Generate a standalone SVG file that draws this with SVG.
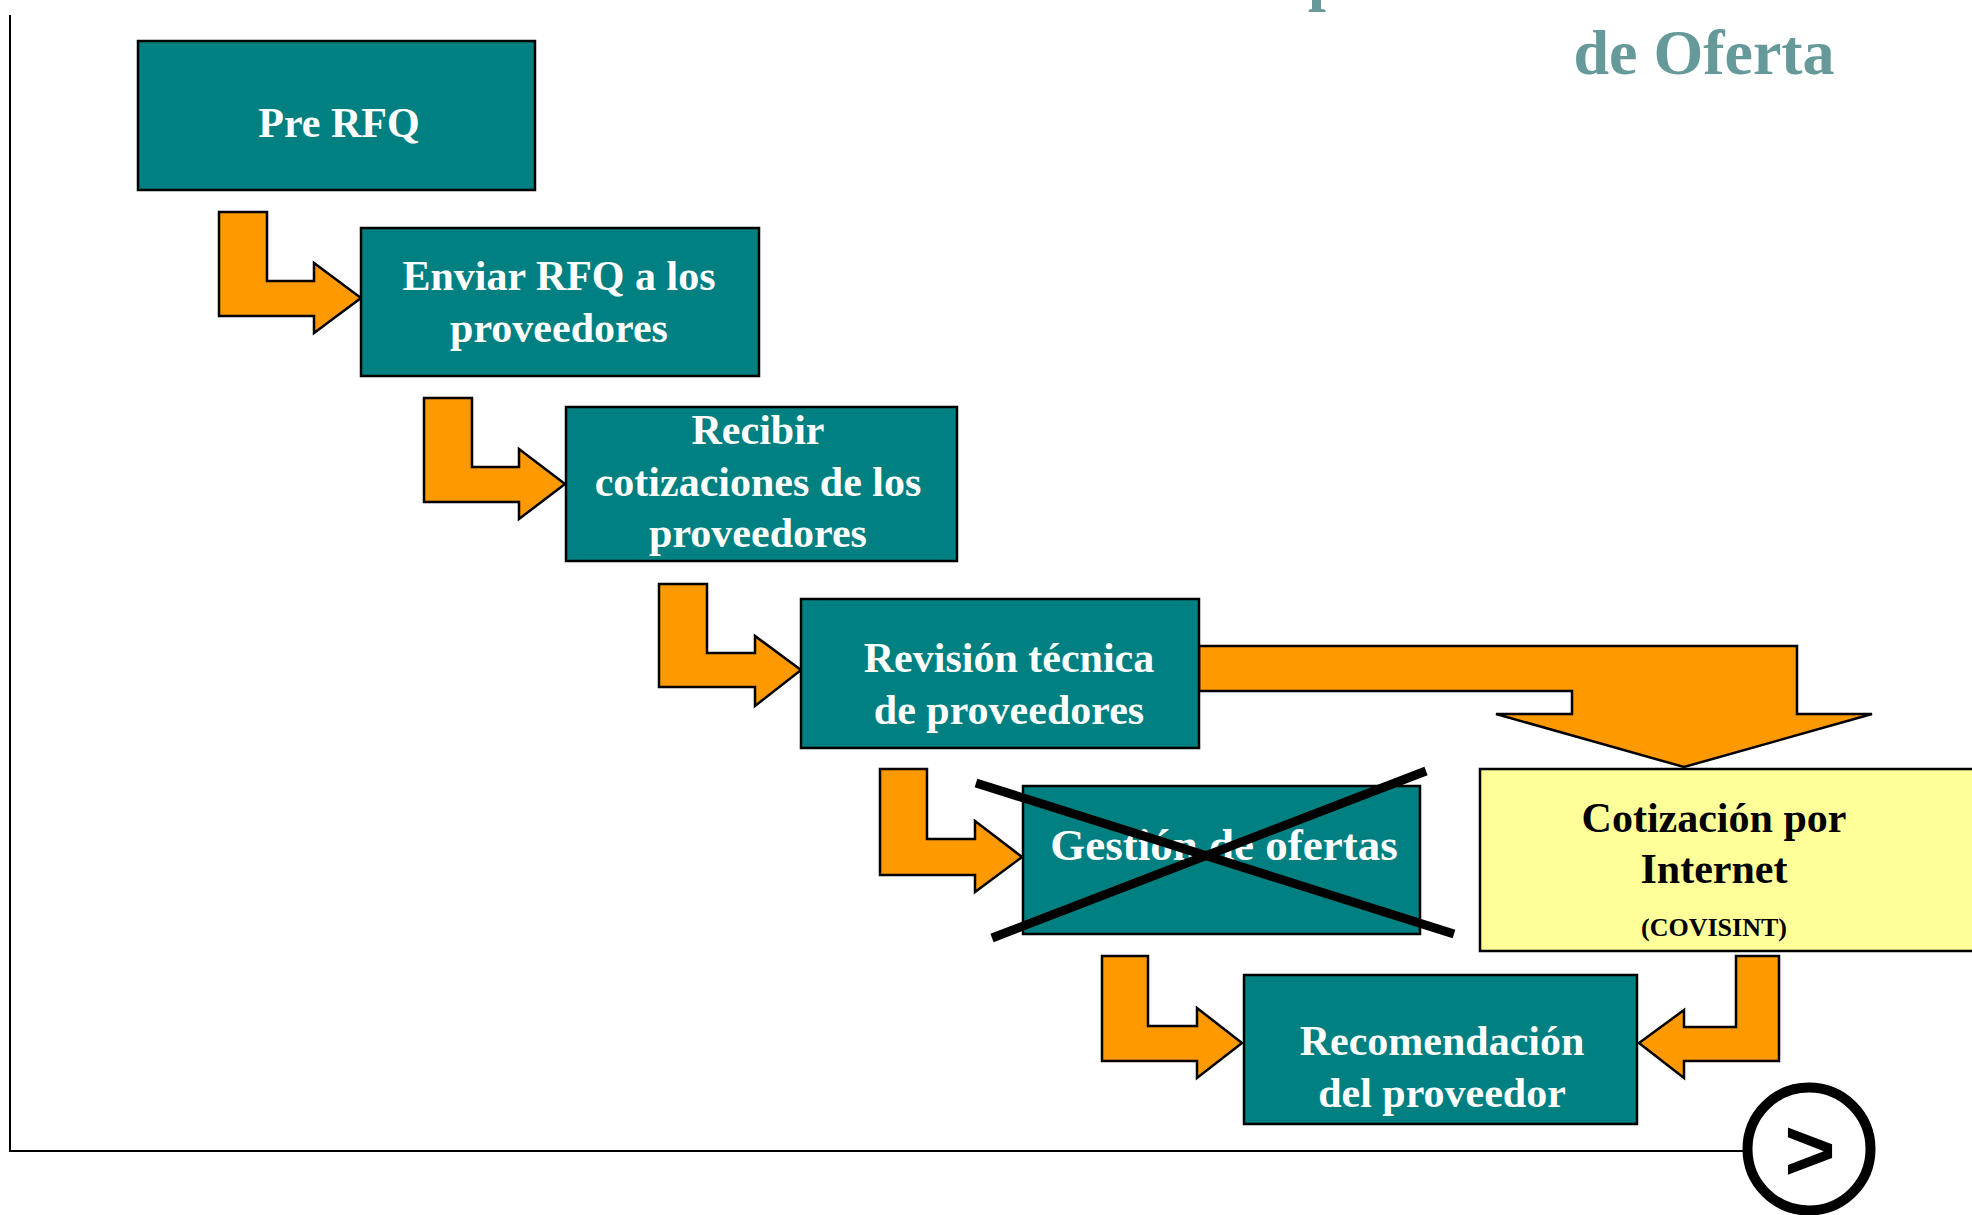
<svg xmlns="http://www.w3.org/2000/svg" width="1972" height="1215" viewBox="0 0 1972 1215">
<style>
.box{fill:#008080;stroke:#000;stroke-width:2.5}
.yel{fill:#FFFF99;stroke:#000;stroke-width:2.5}
.arr{fill:#FF9900;stroke:#000;stroke-width:2.5;stroke-linejoin:miter}
.t{font-family:"Liberation Serif","Times New Roman",serif;font-weight:bold;font-size:42px;fill:#fff;text-anchor:middle}
.tk{fill:#000}
.ttl{font-family:"Liberation Serif","Times New Roman",serif;font-weight:bold;font-size:64px;fill:#669999}
.ax{stroke:#000;stroke-width:2;fill:none}
.x{stroke:#000;stroke-width:9;stroke-linecap:butt}
</style>
<rect width="1972" height="1215" fill="#fff"/>
<g id="title">
<text class="ttl" x="1308" y="-2">p</text>
<text class="ttl" x="1704" y="74" text-anchor="middle">de Oferta</text>
</g>
<g id="axes">
<line class="ax" x1="10" y1="15" x2="10" y2="1152"/>
<line class="ax" x1="9" y1="1151" x2="1744" y2="1151"/>
</g>
<g id="connectors">
<polygon class="arr" points="219,212 267,212 267,281 314,281 314,263 361,298 314,333 314,316 219,316"/>
<polygon class="arr" points="424,398 472,398 472,467 519,467 519,449 565,484 519,519 519,502 424,502"/>
<polygon class="arr" points="659,584 707,584 707,653 755,653 755,636 801,670 755,706 755,687 659,687"/>
<polygon class="arr" points="880,769 927,769 927,839 975,839 975,821 1022,857 975,892 975,875 880,875"/>
<polygon class="arr" points="1102,956 1148,956 1148,1026 1197,1026 1197,1008 1242,1043 1197,1078 1197,1061 1102,1061"/>
<polygon class="arr" points="1779,956 1736,956 1736,1027 1684,1027 1684,1010 1639,1043 1684,1078 1684,1061 1779,1061"/>
<polygon class="arr" points="1199,646 1797,646 1797,714 1872,714 1684,767 1496,714 1572,714 1572,691 1199,691"/>
</g>
<g id="pre-rfq">
<rect class="box" x="138" y="41" width="397" height="149"/>
<text class="t" x="339" y="137">Pre RFQ</text>
</g>
<g id="enviar-rfq">
<rect class="box" x="361" y="228" width="398" height="148"/>
<text class="t" x="559" y="290">Enviar RFQ a los</text>
<text class="t" x="559" y="342">proveedores</text>
</g>
<g id="recibir">
<rect class="box" x="566" y="407" width="391" height="154"/>
<text class="t" x="758" y="444">Recibir</text>
<text class="t" x="758" y="496">cotizaciones de los</text>
<text class="t" x="758" y="547">proveedores</text>
</g>
<g id="revision">
<rect class="box" x="801" y="599" width="398" height="149"/>
<text class="t" x="1009" y="672">Revisión técnica</text>
<text class="t" x="1009" y="724">de proveedores</text>
</g>
<g id="gestion">
<rect class="box" x="1023" y="786" width="397" height="148"/>
<text class="t" x="1224" y="860" style="font-size:45px">Gestión de ofertas</text>
<line class="x" x1="976" y1="783" x2="1454" y2="934"/>
<line class="x" x1="992" y1="938" x2="1426" y2="771"/>
</g>
<g id="cotizacion-internet">
<rect class="yel" x="1480" y="769" width="600" height="182"/>
<text class="t tk" x="1714" y="832">Cotización por</text>
<text class="t tk" x="1714" y="883">Internet</text>
<text class="t tk" x="1714" y="936" style="font-size:26px">(COVISINT)</text>
</g>
<g id="recomendacion">
<rect class="box" x="1244" y="975" width="393" height="149"/>
<text class="t" x="1442" y="1055">Recomendación</text>
<text class="t" x="1442" y="1107">del proveedor</text>
</g>
<g id="next-button">
<circle cx="1809" cy="1149" r="61.5" fill="#fff" stroke="#000" stroke-width="10"/>
<text x="1810" y="1180" text-anchor="middle" style="font-family:'Liberation Sans',Arial,sans-serif;font-weight:bold;font-size:88px;fill:#000">&gt;</text>
</g>
</svg>
